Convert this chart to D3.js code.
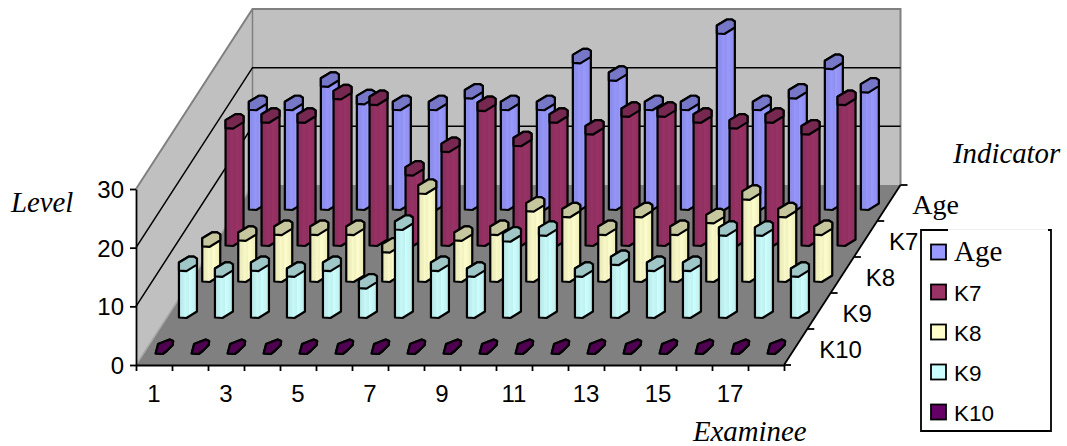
<!DOCTYPE html>
<html><head><meta charset="utf-8">
<script src="https://cdn.jsdelivr.net/npm/d3@7"></script>
<style>html,body{margin:0;padding:0;background:#fff}svg{display:block}</style>
</head><body><div id="c"></div>
<script>
const examinees = d3.range(1, 19);
const seriesNames = ["Age", "K7", "K8", "K9", "K10"];
const ageValues = [17,17,21,18,17,17,19,17,17,25,22,17,17,30,17,19,24,20];
const k7Values  = [20,21,21,25,24,12,16,23,17,21,19,22,22,21,20,21,19,24];
const k8Values  = [6,7,8,8,8,5,15,7,8,12,11,8,11,8,10,14,11,8];
const k9Values  = [8,7,8,7,8,5,15,8,7,13,14,7,9,8,8,14,14,7];
const k10Values = [0,0,0,0,0,0,0,0,0,0,0,0,0,0,0,0,0,0];
const seriesValues = [ageValues, k7Values, k8Values, k9Values, k10Values];
const seriesColors = ["#9999ff", "#993366", "#ffffcc", "#ccffff", "#660066"];
const levelTicks = [0, 10, 20, 30];
const xLabelTicks = [1, 3, 5, 7, 9, 11, 13, 15, 17];

const W = 1067, H = 446;
const svg = d3.select("#c").append("svg").attr("width", W).attr("height", H);
const defs = svg.append("defs");
const sans = "'Liberation Sans',Arial,sans-serif", serif = "'Liberation Serif','Times New Roman',serif";

// Oblique projection: front edge, depth shift and value scale
const xEdge = d3.scaleLinear().domain([0, 18]).range([136, 784]);
const yLevel = d3.scaleLinear().domain([0, 30]).range([365, 189]);
const depthX = d3.scaleLinear().domain([0, 5]).range([0, 116.5]);
const depthY = d3.scaleLinear().domain([0, 5]).range([0, -180]);
const P = (col, depth, level) => [xEdge(col) + depthX(depth), yLevel(level) + depthY(depth)];
const path = pts => "M" + pts.map(p => p.join(",")).join("L") + "Z";

// walls
const g = svg.append("g");
g.append("path").attr("d", path([P(0,0,0),P(0,5,0),P(0,5,30),P(0,0,30)])).attr("fill","#c0c0c0");
g.append("path").attr("d", path([P(0,5,0),P(18,5,0),P(18,5,30),P(0,5,30)])).attr("fill","#c0c0c0");
g.append("path").attr("d", path([P(0,0,0),P(18,0,0),P(18,5,0),P(0,5,0)])).attr("fill","#808080");
// wall outline
g.append("path").attr("d", d3.line()([P(0,0,30),P(0,5,30),P(18,5,30),P(18,5,0)])).attr("fill","none").attr("stroke","#808080").attr("stroke-width",2);
g.append("path").attr("d", d3.line()([P(0,5,0),P(0,5,30)])).attr("fill","none").attr("stroke","#808080").attr("stroke-width",1.5);
g.append("path").attr("d", d3.line()([P(0,0,0),P(0,5,0)])).attr("fill","none").attr("stroke","#a8a8a8").attr("stroke-width",1.5);
// gridlines
levelTicks.filter(v => v > 0 && v < 30).forEach(v => {
  g.append("path").attr("d", d3.line()([P(0,0,v),P(0,5,v),P(18,5,v)])).attr("fill","none").attr("stroke","#000").attr("stroke-width",1.5);
});

// gradients
function shade(c, k) { const r = d3.rgb(c); return d3.rgb(r.r*k, r.g*k, r.b*k).formatHex(); }
seriesColors.forEach((c, i) => {
  const gr = defs.append("linearGradient").attr("id","g"+i).attr("x1",0).attr("x2",1).attr("y1",0).attr("y2",0);
  [[0,.9],[.3,.95],[.32,.98],[.55,.94],[.58,1],[.8,.96],[1,.9]].forEach(([o,k]) =>
    gr.append("stop").attr("offset",o).attr("stop-color",shade(c,k)));
});

// bars
const capShape = [[-10,-1.5],[-10,6.5],[-2.5,7],[8,0.5],[8,-5.5],[5,-7.5],[0,-7.5]];
const flatShape = [[-10,6.5],[-7.5,-3],[-2,-5],[4,-7.5],[7.5,-6],[7,-2],[1,4],[-3,7]];
const barsG = svg.append("g").attr("stroke","#000").attr("stroke-width",2.2).attr("stroke-linejoin","round");
seriesNames.forEach((name, s) => {
  const depth = 4.5 - s;
  examinees.forEach((e, i) => {
    const v = seriesValues[s][i];
    const base = P(i + .5, depth, 0), top = P(i + .5, depth, v);
    const shape = v > 0 ? capShape : flatShape;
    const bottomPts = shape.map(p => [base[0]+p[0], base[1]+p[1]]);
    const topPts = shape.map(p => [top[0]+p[0], top[1]+p[1]]);
    const hull = d3.polygonHull(bottomPts.concat(topPts));
    barsG.append("path").attr("d", path(hull)).attr("fill", `url(#g${s})`);
    barsG.append("path").attr("d", path(d3.polygonHull(topPts))).attr("fill", shade(seriesColors[s], .78));
  });
});

// axes
const axisG = svg.append("g").attr("fill","none").attr("stroke","#000").attr("stroke-width",1.8);
const xAxis = d3.axisBottom(xEdge).tickValues(d3.range(0,19)).tickFormat("").tickSize(6).tickSizeOuter(0);
const xG = svg.append("g").attr("transform",`translate(0,${yLevel(0)})`).call(xAxis);
xG.selectAll("line,path").attr("stroke","#000").attr("stroke-width",1.8);
const yAxis = d3.axisLeft(yLevel).tickValues(levelTicks).tickSize(6).tickSizeOuter(0).tickPadding(6);
const yG = svg.append("g").attr("transform",`translate(${xEdge(0)},0)`).call(yAxis);
yG.selectAll("line,path").attr("stroke","#000").attr("stroke-width",1.8);
yG.selectAll("text").attr("font-family",sans).attr("font-size",24).attr("fill","#000").attr("dy",8.5);
axisG.append("path").attr("d", d3.line()([P(18,0,0),P(18,5,0)]));
d3.range(0,6).forEach(d => {
  const p = P(18,d,0);
  axisG.append("path").attr("d", d3.line()([p,[p[0]+7,p[1]]]));
});

// labels
xLabelTicks.forEach(t => {
  svg.append("text").attr("x", xEdge(t - .5)).attr("y", 402).attr("text-anchor","middle")
    .attr("font-family",sans).attr("font-size",24).text(t);
});
seriesNames.forEach((name, s) => {
  const depth = 4.5 - s, p = P(18, depth, 0);
  svg.append("text").attr("x", p[0]+23.5).attr("y", p[1]+10.5)
    .attr("font-family", s === 0 ? serif : sans).attr("font-size", s === 0 ? 28 : 24).text(name);
});
const italic = (t,x,y) => svg.append("text").attr("x",x).attr("y",y).attr("font-family",serif)
  .attr("font-style","italic").attr("font-size",28.8).text(t);
italic("Level",11,212); italic("Indicator",953,163); italic("Examinee",693,441);

// legend: white box; the top border is only partly drawn in the reference
svg.append("rect").attr("x",921).attr("y",230).attr("width",130).attr("height",201).attr("fill","#fff");
svg.append("path").attr("d","M948,230H921V431H1051V230H1048").attr("fill","none").attr("stroke","#000").attr("stroke-width",1.8);
svg.append("path").attr("d","M948,229.5H1048").attr("fill","none").attr("stroke","#eeeeee").attr("stroke-width",1);
const yLeg = d3.scalePoint().domain(seriesNames).range([252,412]);
seriesNames.forEach((name,s) => {
  svg.append("rect").attr("x",931).attr("y",yLeg(name)-7.5).attr("width",15).attr("height",15)
    .attr("fill",seriesColors[s]).attr("stroke","#000").attr("stroke-width",1.8);
  svg.append("text").attr("x",954).attr("y",yLeg(name)+9)
    .attr("font-family", s === 0 ? serif : sans).attr("font-size", s === 0 ? 29 : 22.5).text(name);
});
</script></body></html>
